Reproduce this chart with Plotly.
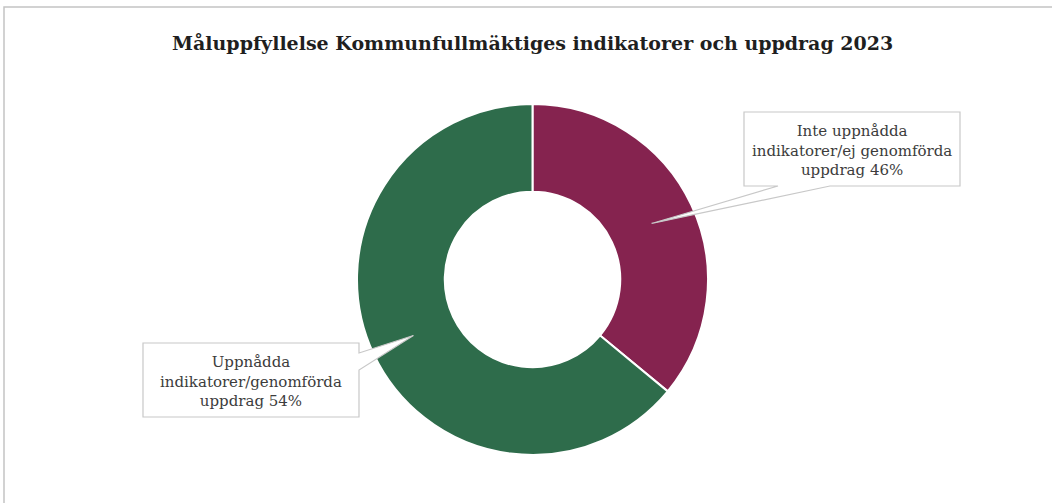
import math
import plotly.graph_objects as go

# slice data (as drawn in the source picture)
labels = ["Inte uppnådda indikatorer/ej genomförda uppdrag",
          "Uppnådda indikatorer/genomförda uppdrag"]
values = [36, 64]
# percentages printed in the label boxes of the source
printed_pct = [46, 54]
label_lines = [["Inte uppnådda", "indikatorer/ej genomförda", "uppdrag"],
               ["Uppnådda", "indikatorer/genomförda", "uppdrag"]]
colors = ["#85234f", "#2e6c4b"]

W, H = 1052, 503
cx, cy, R = 532.5, 279.5, 175.5
hole = 0.5


def px(x):
    return x / W


def py(y):
    return 1 - y / H


fig = go.Figure()
fig.add_trace(go.Pie(
    labels=labels, values=values, hole=hole, sort=False,
    direction="clockwise", rotation=0,
    marker=dict(colors=colors, line=dict(color="white", width=2)),
    textinfo="none", hoverinfo="label+percent",
    domain=dict(x=[px(cx - R), px(cx + R)], y=[py(cy + R), py(cy - R)]),
))

# tail tips: middle of the ring at each slice's mid angle
total = sum(values)
tips = []
start = 0
for v in values:
    mid = (start + v / 2) / total * 2 * math.pi
    r = (1 + hole) / 2 * R
    tips.append((cx + r * math.sin(mid), cy - r * math.cos(mid)))
    start += v

# callout boxes (pixel layout)
boxes = [dict(x0=744, y0=112, x1=960, y1=186, side="bottom", b0=778, b1=830),
         dict(x0=143, y0=343, x1=359, y1=417, side="right", b0=353, b1=370)]

shapes = [dict(type="rect", xref="paper", yref="paper",
               x0=px(4), x1=1.02, y0=-0.02, y1=py(7),
               line=dict(color="#c4c4c4", width=1.5), layer="below")]

for b, (tx, ty) in zip(boxes, tips):
    if b["side"] == "bottom":
        pts = [(b["x0"], b["y0"]), (b["x1"], b["y0"]), (b["x1"], b["y1"]),
               (b["b1"], b["y1"]), (tx, ty), (b["b0"], b["y1"]), (b["x0"], b["y1"])]
    else:
        pts = [(b["x0"], b["y0"]), (b["x1"], b["y0"]), (b["x1"], b["b0"]),
               (tx, ty), (b["x1"], b["b1"]), (b["x1"], b["y1"]), (b["x0"], b["y1"])]
    path = "M " + " L ".join(f"{px(x):.5f},{py(y):.5f}" for x, y in pts) + " Z"
    shapes.append(dict(type="path", xref="paper", yref="paper", path=path,
                       fillcolor="white", line=dict(color="#c8c8c8", width=1.2),
                       layer="above"))

annotations = []
for b, lines, pct in zip(boxes, label_lines, printed_pct):
    text = "<br>".join(lines[:-1] + [f"{lines[-1]} {pct}%"])
    annotations.append(dict(
        xref="paper", yref="paper",
        x=px((b["x0"] + b["x1"]) / 2), y=py((b["y0"] + b["y1"]) / 2 + 1.5),
        text=text, showarrow=False, align="center",
        xanchor="center", yanchor="middle",
        font=dict(family="DejaVu Serif", size=15, color="#3c3c3c"),
    ))

annotations.append(dict(
    xref="paper", yref="paper", x=px(532), y=py(43),
    text="<b>Måluppfyllelse Kommunfullmäktiges indikatorer och uppdrag 2023</b>",
    showarrow=False, xanchor="center", yanchor="middle",
    font=dict(family="DejaVu Serif", size=19, color="#1f1f1f"),
))

fig.update_layout(
    width=W, height=H,
    margin=dict(l=0, r=0, t=0, b=0),
    paper_bgcolor="white", plot_bgcolor="white",
    showlegend=False,
    shapes=shapes, annotations=annotations,
)

# drop the default page margin so the figure sits at the window's corner
fig.write_html("out.html", config={"displayModeBar": False},
               post_script="document.body.style.margin='0';")
